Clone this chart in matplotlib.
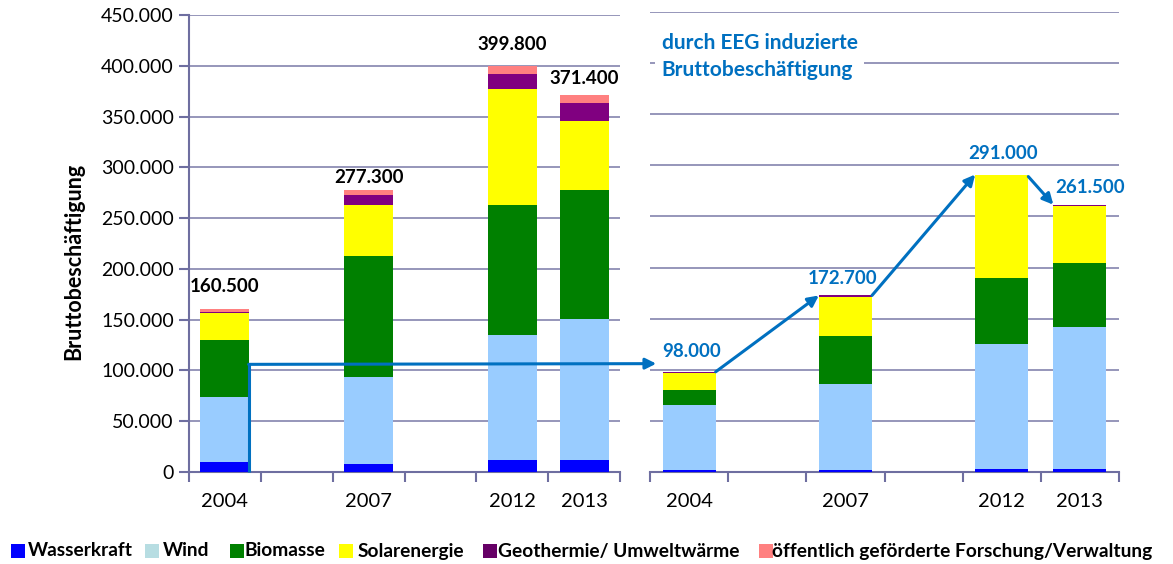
import matplotlib
matplotlib.use("Agg")
import matplotlib.pyplot as plt
from matplotlib.patches import Rectangle
from matplotlib.ticker import FuncFormatter, FixedLocator

plt.rcParams['font.family'] = ['Lato', 'DejaVu Sans']

# ---------------- data ----------------
years = ["2004", "2007", "2012", "2013"]
legend_labels = ["Wasserkraft", "Wind", "Biomasse", "Solarenergie",
                 "Geothermie/ Umweltwärme", "öffentlich geförderte Forschung/Verwaltung"]

# total gross employment (left group)
total_wasser = [9500, 8300, 12200, 12200]
total_wind = [64400, 85300, 122500, 138300]
total_bio = [56000, 119200, 128100, 127100]
total_solar = [26300, 50000, 114000, 68300]
total_geo = [1000, 9900, 15100, 17400]
total_forsch = [3300, 4600, 7900, 8100]
total_labels = ["160.500", "277.300", "399.800", "371.400"]
total_values = [160500, 277300, 399800, 371400]

# EEG induced gross employment (right group)
eeg_wasser = [1500, 1500, 3300, 3300]
eeg_wind = [64500, 85000, 122400, 138600]
eeg_bio = [14700, 46300, 63600, 62100]
eeg_solar = [16200, 38500, 101100, 56400]
eeg_geo = [1100, 1400, 600, 1100]
eeg_forsch = [0, 0, 0, 0]
eeg_labels = ["98.000", "172.700", "291.000", "261.500"]
eeg_values = [98000, 172700, 291000, 261500]

slot_names = ["2004", "", "2007", "", "2012", "2013"]
bar_slots = [0, 2, 4, 5]

yticks = [0, 50000, 100000, 150000, 200000, 250000, 300000, 350000, 400000, 450000]

bar_colors = ["#0000FF", "#99CCFF", "#008000", "#FFFF00", "#800080", "#FF8080"]
legend_colors = ["#0000FF", "#B7DDE2", "#008000", "#FFFF00", "#660066", "#FF8080"]
BLUE = "#0070C0"
GRID = "#8484AE"
SPINE = "#6E6EA0"

W, H = 1173, 564
fig = plt.figure(figsize=(W / 100, H / 100), dpi=100)


def fx(px):
    return px / W


def fy(py):
    return 1 - py / H


ax_l = fig.add_axes([fx(189), fy(472), fx(620) - fx(189), fy(15) - fy(472)])
ax_r = fig.add_axes([fx(650), fy(472), fx(1119) - fx(650), fy(12) - fy(472)])


def draw_stack(ax, series):
    bottom = [0] * len(bar_slots)
    for vals, col in zip(series, bar_colors):
        ax.bar(bar_slots, vals, width=0.68, bottom=bottom, color=col,
               edgecolor="none", zorder=3)
        bottom = [b + v for b, v in zip(bottom, vals)]


draw_stack(ax_l, [total_wasser, total_wind, total_bio, total_solar, total_geo, total_forsch])
draw_stack(ax_r, [eeg_wasser, eeg_wind, eeg_bio, eeg_solar, eeg_geo, eeg_forsch])

fmt = FuncFormatter(lambda v, p: "0" if v == 0 else f"{int(v):,}".replace(",", "."))

for ax in (ax_l, ax_r):
    ax.set_xlim(-0.5, len(slot_names) - 0.5)
    ax.set_ylim(0, 450000)
    ax.set_yticks(yticks)
    ax.grid(axis="y", color=GRID, linewidth=1.2, zorder=0)
    ax.set_axisbelow(True)
    for s in ("top", "right"):
        ax.spines[s].set_visible(False)
    ax.spines["bottom"].set_color(SPINE)
    ax.spines["bottom"].set_linewidth(1.5)
    ax.xaxis.set_major_locator(FixedLocator([i - 0.5 for i in range(len(slot_names) + 1)]))
    ax.xaxis.set_minor_locator(FixedLocator(list(range(len(slot_names)))))
    ax.set_xticklabels([""] * (len(slot_names) + 1))
    ax.set_xticklabels(slot_names, minor=True, fontsize=14.5)
    ax.tick_params(axis="x", which="major", length=7, width=1.5, color=SPINE, direction="out")
    ax.tick_params(axis="x", which="minor", length=0, pad=15)

ax_l.spines["left"].set_color(SPINE)
ax_l.spines["left"].set_linewidth(1.5)
ax_l.yaxis.set_major_formatter(fmt)
ax_l.tick_params(axis="y", length=7, width=1.5, color=SPINE, labelsize=14, pad=4)
ax_l.set_ylabel("Bruttobeschäftigung", fontsize=15.5, fontweight="bold")
ax_l.yaxis.set_label_coords(-0.243, 0.46)

ax_r.spines["left"].set_visible(False)
ax_r.tick_params(axis="y", length=0, labelleft=False)

# total labels
lbl_off_l = [23, 13, 21, 16]
for s, v, t, o in zip(bar_slots, total_values, total_labels, lbl_off_l):
    ax_l.annotate(t, (s, v), xytext=(0, o), textcoords="offset pixels",
                  ha="center", va="center", fontsize=13.5, fontweight="bold",
                  color="black", annotation_clip=False, zorder=5)

lbl_off_r = [(3, 20), (-3, 17), (1, 21), (10, 17)]
for s, v, t, (ox, oy) in zip(bar_slots, eeg_values, eeg_labels, lbl_off_r):
    ax_r.annotate(t, (s, v), xytext=(ox, oy), textcoords="offset pixels",
                  ha="center", va="center", fontsize=13.5, fontweight="bold",
                  color=BLUE, annotation_clip=False, zorder=5)

# headline inside right panel
ax_r.text(0.025, 0.903, "durch EEG induzierte\nBruttobeschäftigung", transform=ax_r.transAxes,
          ha="left", va="center", fontsize=15, fontweight="bold", color=BLUE,
          linespacing=1.45, zorder=4,
          bbox=dict(boxstyle="square,pad=0.3", facecolor="white", edgecolor="none"))

# arrows
akw = dict(arrowstyle="-|>", color=BLUE, lw=2.2, mutation_scale=16, shrinkA=0, shrinkB=0)
half = 0.34
y_link = 106000
ax_l.plot([bar_slots[0] + half, bar_slots[0] + half], [0, y_link], color=BLUE,
          lw=2.2, clip_on=False, zorder=6, solid_capstyle="butt")
ax_r.annotate("", xy=(bar_slots[0] - 0.42, y_link), xycoords=ax_r.transData,
              xytext=(bar_slots[0] + half - 0.01, y_link), textcoords=ax_l.transData,
              arrowprops=akw, annotation_clip=False, zorder=6)
ax_r.annotate("", xy=(bar_slots[1] - half, eeg_values[1]), xytext=(bar_slots[0] + half, eeg_values[0]),
              arrowprops=akw, annotation_clip=False, zorder=6)
ax_r.annotate("", xy=(bar_slots[2] - half, eeg_values[2]), xytext=(bar_slots[1] + half, eeg_values[1]),
              arrowprops=akw, annotation_clip=False, zorder=6)
ax_r.annotate("", xy=(bar_slots[3] - half, eeg_values[3]), xytext=(bar_slots[2] + half, eeg_values[2] - 2000),
              arrowprops=akw, annotation_clip=False, zorder=6)

# legend (manual row)
sq_x = [11, 145, 230, 339, 483, 759]
txt_x = [28, 163, 245, 358, 498, 772]
for x0, tx, lab, col in zip(sq_x, txt_x, legend_labels, legend_colors):
    fig.patches.append(Rectangle((fx(x0), fy(558)), fx(14), fy(544) - fy(558),
                                 transform=fig.transFigure, facecolor=col, edgecolor="none"))
    fig.text(fx(tx), fy(551), lab, ha="left", va="center", fontsize=13.8, fontweight="bold")

fig.savefig("out.png", dpi=100)
